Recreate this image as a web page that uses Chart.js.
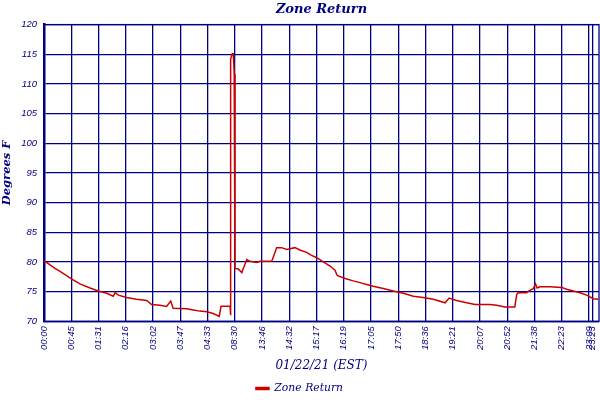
<!DOCTYPE html>
<html>
<head>
<meta charset="utf-8">
<title>Zone Return</title>
<script src="https://cdn.jsdelivr.net/npm/chart.js@4.4.0/dist/chart.umd.min.js"></script>
<style>
    html, body { margin: 0; padding: 0; background: #fff; }
    #wrap { width: 600px; height: 400px; }
</style>
</head>
<body>
<div id="wrap"><canvas id="zoneChart"></canvas></div>
<script>
// x axis: logged sample number, tick positions + their clock labels
const tickIndex = [0, 10, 20, 30, 40, 50, 60, 70, 80, 90, 100, 110, 120, 130, 140, 150, 160, 170, 180, 190, 200, 201.3];
const tickLabels = ["00:00", "00:45", "01:31", "02:16", "03:02", "03:47", "04:33", "08:30", "13:46", "14:32",
    "15:17", "16:19", "17:05", "17:50", "18:36", "19:21", "20:07", "20:52", "21:38", "22:23", "23:09", "23:23"];

// y axis ticks (degrees F)
const yTicks = [70, 75, 80, 85, 90, 95, 100, 105, 110, 115, 120];

// readings
const sampleIndex = [
    0, 2.2, 4.0, 5.9, 8.3, 10.2, 13.2, 16.9, 19.9, 23.0,
    25.4, 26.1, 27.3, 30.3, 34.0, 37.7, 39.5, 42.6, 45.0, 46.5,
    47.4, 52.4, 54.8, 57.2, 59.7, 62.1, 64.3, 65.0, 68.3, 68.4,
    68.5, 68.6, 69.1, 69.5, 69.8, 70.1, 71.3, 72.6, 74.4, 75.6,
    78.1, 79.3, 83.6, 85.4, 87.2, 89.1, 92.1, 93.9, 96.4, 98.2,
    100.1, 102.5, 105.0, 106.8, 107.6, 110.5, 113.5, 116.0, 118.4, 120.8,
    124.5, 128.2, 131.9, 135.5, 139.2, 142.9, 147.2, 148.7, 151.4, 155.1,
    158.2, 163.7, 166.1, 169.2, 172.8, 173.5, 174.0, 177.1, 178.3, 179.6,
    180.4, 181.0, 182.0, 185.7, 190.0, 191.8, 194.3, 196.7, 199.2, 201.6,
    203.4
];
const zoneReturn = [
    80.2, 79.5, 78.9, 78.4, 77.7, 77.1, 76.3, 75.6, 75.1, 74.7,
    74.2, 74.8, 74.4, 74.0, 73.7, 73.5, 72.8, 72.7, 72.5, 73.4,
    72.2, 72.1, 71.9, 71.7, 71.6, 71.3, 70.8, 72.5, 72.5, 71.0,
    92.1, 114.2, 115.1, 115.1, 111.7, 78.9, 78.8, 78.2, 80.4, 80.1,
    79.9, 80.1, 80.1, 82.4, 82.4, 82.1, 82.4, 82.0, 81.6, 81.1,
    80.7, 80.0, 79.3, 78.6, 77.7, 77.2, 76.8, 76.5, 76.2, 75.9,
    75.5, 75.1, 74.7, 74.2, 74.0, 73.7, 73.1, 73.9, 73.5, 73.1,
    72.8, 72.8, 72.7, 72.4, 72.4, 74.5, 74.8, 74.8, 75.2, 75.5,
    76.3, 75.6, 75.8, 75.8, 75.7, 75.4, 75.1, 74.8, 74.4, 73.8,
    73.7
];

const navy = "#000080";
const red = "#cc0000";
const serif = "'DejaVu Serif', serif";
const sans = "'Liberation Sans', Arial, sans-serif";

// plot frame (right / top edges)
const framePlugin = {
    id: "frame",
    beforeDatasetsDraw(chart) {
        const a = chart.chartArea;
        const ctx = chart.ctx;
        ctx.save();
        ctx.strokeStyle = navy;
        ctx.lineWidth = 1.3;
        ctx.strokeRect(a.left, a.top, a.right - a.left, a.bottom - a.top);
        ctx.restore();
    },
};

const ctx = document.getElementById("zoneChart").getContext("2d");
new Chart(ctx, {
    type: "line",
    data: {
        datasets: [
            {
                label: "Zone Return",
                data: sampleIndex.map((x, i) => ({ x: x, y: zoneReturn[i] })),
                borderColor: red,
                backgroundColor: red,
                borderWidth: 1.5,
                pointRadius: 0,
                tension: 0,
                fill: false,
            },
        ],
    },
    options: {
        responsive: true,
        maintainAspectRatio: false,
        animation: false,
        layout: { padding: { left: 0, right: 1, top: 0, bottom: -4 } },
        plugins: {
            title: {
                display: true,
                fullSize: false,
                text: "Zone Return",
                color: navy,
                font: { family: serif, size: 13, weight: "bold", style: "italic" },
                padding: { top: 2, bottom: 7 },
            },
            legend: {
                position: "bottom",
                labels: {
                    color: navy,
                    font: { family: serif, size: 10.8, style: "italic" },
                    boxWidth: 13,
                    boxHeight: 2,
                    padding: 10,
                },
            },
            tooltip: { enabled: false },
        },
        scales: {
            x: {
                type: "linear",
                min: 0,
                max: 203.7,
                afterBuildTicks: (scale) => {
                    scale.ticks = tickIndex.map((v) => ({ value: v }));
                },
                afterFit: (scale) => {
                    scale.height = 52;
                    scale.paddingLeft = 0;
                    scale.paddingRight = 0;
                },
                ticks: {
                    autoSkip: false,
                    minRotation: 90,
                    maxRotation: 90,
                    padding: 5,
                    color: navy,
                    font: { family: sans, size: 9.5, style: "italic" },
                    callback: (value, index) => tickLabels[index],
                },
                grid: { color: navy, lineWidth: 1.3, drawTicks: false },
                border: { color: navy, width: 1.3 },
                title: {
                    display: true,
                    text: "01/22/21 (EST)",
                    color: navy,
                    font: { family: serif, size: 12, style: "italic" },
                    padding: { top: 0, bottom: 0 },
                },
            },
            y: {
                min: 70,
                max: 120,
                afterBuildTicks: (scale) => {
                    scale.ticks = yTicks.map((v) => ({ value: v }));
                },
                afterFit: (scale) => {
                    scale.width = 44;
                },
                ticks: {
                    padding: 7,
                    color: navy,
                    font: { family: sans, size: 9.5, style: "italic" },
                },
                grid: { color: navy, lineWidth: 1.3, drawTicks: false },
                border: { color: navy, width: 2.5 },
                title: {
                    display: true,
                    text: "Degrees F",
                    color: navy,
                    font: { family: serif, size: 11.5, weight: "bold", style: "italic" },
                    padding: { top: 0, bottom: 0 },
                },
            },
        },
    },
    plugins: [framePlugin],
});
</script>
</body>
</html>
